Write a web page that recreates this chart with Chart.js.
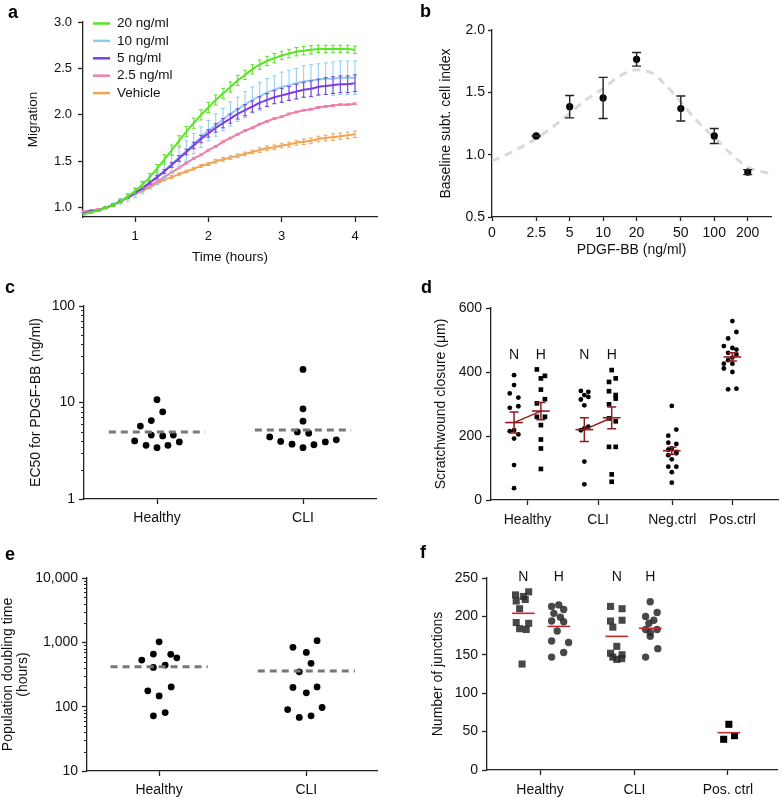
<!DOCTYPE html>
<html>
<head>
<meta charset="utf-8">
<script src="https://cdn.jsdelivr.net/npm/chart.js@4.4.1/dist/chart.umd.min.js"></script>
<style>
  body { margin: 0; background: #fff; width: 782px; height: 798px; position: relative; overflow: hidden; }
  canvas { position: absolute; }
</style>
</head>
<body>
<canvas id="ca" width="391" height="270" style="left:0;top:0"></canvas>
<canvas id="cb" width="391" height="270" style="left:391px;top:0"></canvas>
<canvas id="cc" width="391" height="260" style="left:0;top:270px"></canvas>
<canvas id="cd" width="391" height="260" style="left:391px;top:270px"></canvas>
<canvas id="ce" width="391" height="268" style="left:0;top:530px"></canvas>
<canvas id="cf" width="391" height="268" style="left:391px;top:530px"></canvas>
<script>
// ---- a: migration curves ----
const timeH = [0.3,0.4,0.5,0.6,0.7,0.8,0.9,1.0,1.1,1.2,1.3,1.4,1.5,1.6,1.7,1.8,1.9,2.0,2.1,2.2,2.3,2.4,2.5,2.6,2.7,2.8,2.9,3.0,3.1,3.2,3.3,3.4,3.5,3.6,3.7,3.8,3.9,4.0];
const mig20 = [0.93,0.95,0.97,1.00,1.03,1.07,1.12,1.18,1.25,1.33,1.42,1.52,1.62,1.72,1.82,1.91,2.00,2.08,2.16,2.23,2.30,2.37,2.43,2.49,2.54,2.58,2.61,2.64,2.66,2.68,2.69,2.70,2.71,2.71,2.71,2.71,2.71,2.70];
const mig10 = [0.95,0.96,0.97,1.00,1.03,1.07,1.11,1.16,1.21,1.27,1.33,1.40,1.47,1.54,1.61,1.69,1.76,1.83,1.89,1.95,2.01,2.06,2.11,2.16,2.20,2.24,2.27,2.30,2.32,2.34,2.36,2.37,2.38,2.39,2.39,2.40,2.40,2.40];
const mig5 = [0.94,0.96,0.97,1.00,1.03,1.07,1.11,1.16,1.21,1.27,1.33,1.39,1.46,1.53,1.60,1.67,1.74,1.80,1.86,1.91,1.96,2.01,2.05,2.09,2.13,2.16,2.19,2.21,2.23,2.25,2.27,2.28,2.30,2.31,2.32,2.33,2.33,2.34];
const mig25 = [0.96,0.97,0.98,1.00,1.03,1.07,1.11,1.15,1.19,1.24,1.28,1.33,1.38,1.43,1.48,1.53,1.57,1.62,1.66,1.71,1.75,1.79,1.83,1.86,1.90,1.93,1.96,1.98,2.01,2.03,2.05,2.06,2.08,2.09,2.10,2.11,2.11,2.12];
const migVeh = [0.96,0.97,0.98,1.00,1.03,1.07,1.11,1.15,1.18,1.22,1.26,1.30,1.33,1.36,1.39,1.42,1.45,1.47,1.50,1.52,1.54,1.56,1.58,1.60,1.62,1.64,1.65,1.67,1.68,1.70,1.71,1.72,1.74,1.75,1.76,1.77,1.78,1.79];
const err20 = [0.01,0.01,0.01,0.01,0.015,0.02,0.025,0.03,0.035,0.04,0.045,0.05,0.055,0.055,0.055,0.055,0.055,0.055,0.055,0.055,0.055,0.055,0.05,0.05,0.05,0.05,0.05,0.045,0.045,0.045,0.045,0.045,0.04,0.04,0.04,0.04,0.04,0.04];
const err10 = [0.01,0.01,0.01,0.01,0.02,0.03,0.04,0.05,0.06,0.07,0.08,0.09,0.10,0.11,0.11,0.11,0.11,0.11,0.12,0.12,0.13,0.13,0.14,0.14,0.15,0.15,0.15,0.16,0.16,0.16,0.17,0.17,0.17,0.17,0.18,0.18,0.18,0.18];
const err5 = [0.01,0.01,0.01,0.01,0.01,0.01,0.01,0.01,0.01,0.015,0.02,0.02,0.025,0.03,0.03,0.035,0.04,0.04,0.045,0.05,0.05,0.055,0.06,0.06,0.065,0.07,0.07,0.075,0.075,0.08,0.08,0.085,0.085,0.09,0.09,0.09,0.09,0.09];
const err25 = [0.01,0.01,0.01,0.01,0.01,0.01,0.01,0.01,0.01,0.01,0.01,0.01,0.01,0.01,0.01,0.01,0.01,0.01,0.01,0.01,0.01,0.01,0.01,0.01,0.01,0.01,0.01,0.01,0.01,0.01,0.01,0.01,0.01,0.01,0.01,0.01,0.01,0.01];
const errVeh = [0.005,0.005,0.005,0.005,0.005,0.005,0.01,0.01,0.01,0.01,0.01,0.01,0.015,0.015,0.015,0.015,0.015,0.015,0.02,0.02,0.02,0.02,0.02,0.02,0.025,0.025,0.025,0.025,0.025,0.025,0.03,0.03,0.03,0.03,0.035,0.035,0.035,0.035];

// ---- b: dose response ----
const pdgfConc = [2.5, 5, 10, 20, 50, 100, 200];
const cellIndex = [1.15, 1.385, 1.455, 1.765, 1.37, 1.15, 0.86];
const cellIndexSem = [0.005, 0.09, 0.165, 0.055, 0.10, 0.06, 0.02];
const fitConc = [1, 1.5, 2.5, 4, 5, 7, 10, 14, 20, 28, 40, 50, 70, 100, 140, 200, 280, 324];
const fitIndex = [0.95, 1.02, 1.13, 1.26, 1.33, 1.44, 1.53, 1.63, 1.68, 1.65, 1.52, 1.42, 1.27, 1.14, 1.01, 0.9, 0.86, 0.85];

// ---- c: EC50 ----
const ec50Healthy = [10.7, 8.0, 6.5, 5.7, 4.6, 4.5, 4.6, 4.0, 3.9, 3.6, 3.4, 3.6];
const ec50HealthyJit = [0, 0.039, -0.039, -0.114, -0.039, 0.039, 0.112, -0.153, 0.153, -0.075, 0, 0.075];
const ec50Cli = [22, 8.6, 6.4, 4.95, 4.8, 4.4, 3.95, 3.7, 3.4, 3.65, 3.9, 4.1];
const ec50CliJit = [0, 0, 0, -0.039, 0.039, -0.228, -0.153, -0.075, 0, 0.075, 0.153, 0.228];
const ec50Median = [4.95, 5.2];

// ---- d: scratchwound ----
const dTickLabels = ['Healthy', 'CLI', 'Neg.ctrl', 'Pos.ctrl'];
const dHealthyN = [390, 359, 333, 320, 288, 293, 218, 215, 205, 192, 109, 37];
const dHealthyNJit = [0, 0, -0.16, 0.16, -0.16, 0.16, 0, -0.16, 0.16, 0, 0, 0];
const dHealthyH = [408, 388, 380, 345, 315, 302, 260, 260, 234, 189, 161, 97];
const dHealthyHJit = [-0.15, 0.15, 0, 0, 0.15, -0.15, -0.15, 0.15, 0, 0, 0, 0];
const dCliN = [341, 338, 328, 314, 322, 296, 224, 229, 218, 120, 49];
const dCliNJit = [-0.13, 0.15, 0, -0.13, 0.15, 0, 0, 0.15, -0.13, 0, 0];
const dCliH = [406, 380, 369, 340, 328, 317, 299, 255, 246, 166, 166, 80, 57];
const dCliHJit = [0, 0.15, -0.1, -0.1, 0.15, 0.15, -0.1, -0.1, 0.15, -0.1, 0.15, 0, 0];
const dNeg = [294, 220, 201, 179, 175, 161, 157, 150, 146, 140, 127, 104, 104, 87, 54];
const dNegJit = [0, 0.17, -0.13, -0.13, 0.17, 0, -0.13, 0.17, 0.17, -0.13, 0, -0.13, 0.17, 0, 0];
const dPos = [559, 525, 505, 481, 475, 470, 460, 455, 445, 437, 426, 426, 411, 400, 346, 348];
const dPosJit = [0, 0.15, -0.16, -0.32, 0, 0.15, -0.16, 0.15, 0, -0.16, 0, -0.32, -0.32, 0, -0.16, 0.15];
const dMean = [242, 278, 220, 257, 154, 447];
const dSem = [33, 27, 37, 34, 11, 13];

// ---- e: doubling time ----
const pdtHealthy = [1020, 658, 650, 575, 530, 443, 408, 203, 176, 147, 81, 72];
const pdtHealthyJit = [0, -0.039, 0.079, 0.12, -0.118, 0.041, -0.039, 0.082, -0.077, 0, 0.041, -0.039];
const pdtCli = [1060, 836, 698, 471, 348, 199, 203, 164, 97, 90, 72, 68];
const pdtCliJit = [0.073, -0.091, 0, 0.032, -0.048, -0.091, 0.073, 0, 0.107, -0.127, 0.032, -0.048];
const pdtMedian = [417, 357];

// ---- f: junctions ----
const fTickLabels = ['Healthy', 'CLI', 'Pos. ctrl'];
const fHealthyN = [228, 232, 226, 220, 222, 210, 192, 191, 184, 183, 138];
const fHealthyNJit = [-0.083, 0.056, 0, -0.076, 0.02, -0.04, -0.076, 0.056, -0.04, 0.03, -0.014];
const fHealthyH = [213, 215, 209, 204, 199, 194, 193, 181, 168, 166, 153, 147];
const fHealthyHJit = [-0.076, 0, 0.052, -0.052, 0.017, -0.076, 0.052, -0.017, -0.076, 0.104, 0.052, -0.076];
const fCliN = [213, 210, 194, 195, 186, 161, 152, 150, 147, 144, 145];
const fCliNJit = [-0.066, 0.056, -0.066, 0.056, -0.042, 0, -0.066, 0.056, -0.042, 0, 0.052];
const fCliH = [219, 205, 200, 195, 191, 183, 183, 179, 174, 158, 147];
const fCliHJit = [0, 0.073, -0.049, 0.038, -0.014, 0.073, -0.049, 0, 0, 0.08, -0.049];
const fPos = [59.5, 40, 44.7];
const fPosJit = [0, -0.055, 0.06];
const fMean = [204, 187, 174, 184.5, 48.6];

// ---------- common ----------
Chart.defaults.font.family = "'Liberation Sans', Arial, Helvetica, sans-serif";
Chart.defaults.color = '#111';
Chart.defaults.animation = false;
Chart.defaults.plugins.legend.display = false;
Chart.defaults.plugins.tooltip.enabled = false;

const INK = '#222';
const RED_D = '#8e1c1c';
const RED_F = '#c42a2f';

function axis(c) {
  return {
    type: c.type || 'linear', min: c.min, max: c.max,
    border: {display: true, color: INK, width: 1.3},
    grid: {drawOnChartArea: false, drawTicks: true, tickLength: c.tickLen || 5, tickColor: INK, tickWidth: 1.3},
    ticks: {color: '#111', font: {size: c.fontSize || 14}, padding: c.tickPad ?? 4, maxRotation: 0, autoSkip: false,
      callback: (v, i) => c.labels ? c.labels[i] : v},
    title: c.title
      ? {display: true, text: c.title, color: '#111', font: {size: c.titleSize || 14, lineHeight: c.titleLH || 1.2}, padding: c.titlePad}
      : {display: false},
    afterBuildTicks: sc => { sc.ticks = c.ticks.map(v => ({value: v})); },
    afterFit: sc => { if (c.horiz) sc.height = c.size; else sc.width = c.size; }
  };
}

// vertical error bars, drawn right after their dataset
const errorBars = {
  id: 'errorBars',
  afterDatasetDraw(chart, args) {
    const ds = chart.data.datasets[args.index];
    if (!ds.err) return;
    const ctx = chart.ctx, xs = chart.scales.x, ys = chart.scales.y, cap = ds.errCap || 3;
    ctx.save();
    ctx.strokeStyle = ds.errColor || ds.borderColor;
    ctx.lineWidth = ds.errWidth || 1;
    ds.data.forEach((p, i) => {
      const e = ds.err[i];
      if (!e) return;
      const x = xs.getPixelForValue(p.x);
      const y1 = ys.getPixelForValue(p.y + e), y2 = ys.getPixelForValue(p.y - e);
      ctx.beginPath();
      ctx.moveTo(x, y1); ctx.lineTo(x, y2);
      ctx.moveTo(x - cap, y1); ctx.lineTo(x + cap, y1);
      ctx.moveTo(x - cap, y2); ctx.lineTo(x + cap, y2);
      ctx.stroke();
    });
    ctx.restore();
  }
};

const panelLabel = {
  id: 'panelLabel',
  afterDraw(chart, args, o) {
    const ctx = chart.ctx;
    ctx.save();
    ctx.font = "bold 18px 'Liberation Sans', Arial, sans-serif";
    ctx.fillStyle = '#000';
    ctx.textBaseline = 'middle';
    ctx.fillText(o.text, o.x, o.y);
    ctx.restore();
  }
};

const minorTicks = {
  id: 'minorTicks',
  afterDraw(chart, args, o) {
    const ctx = chart.ctx, ys = chart.scales.y, x0 = chart.chartArea.left;
    ctx.save();
    ctx.strokeStyle = INK; ctx.lineWidth = 1;
    o.values.forEach(v => {
      const y = Math.round(ys.getPixelForValue(v)) + 0.5;
      ctx.beginPath(); ctx.moveTo(x0 - 3, y); ctx.lineTo(x0, y); ctx.stroke();
    });
    ctx.restore();
  }
};

const groupText = {
  id: 'groupText',
  afterDraw(chart, args, o) {
    const ctx = chart.ctx, xs = chart.scales.x, ys = chart.scales.y;
    ctx.save();
    ctx.font = "14px 'Liberation Sans', Arial, sans-serif";
    ctx.fillStyle = '#111'; ctx.textAlign = 'center'; ctx.textBaseline = 'middle';
    o.items.forEach(it => ctx.fillText(it.text, xs.getPixelForValue(it.x), ys.getPixelForValue(it.y)));
    ctx.restore();
  }
};

const lineLegend = {
  id: 'lineLegend',
  afterDraw(chart, args, o) {
    const ctx = chart.ctx;
    ctx.save();
    ctx.font = "13.5px 'Liberation Sans', Arial, sans-serif";
    ctx.textBaseline = 'middle';
    chart.data.datasets.forEach((ds, i) => {
      const y = o.y + i * o.gap;
      ctx.strokeStyle = ds.borderColor; ctx.lineWidth = 2.5;
      ctx.beginPath(); ctx.moveTo(o.x, y); ctx.lineTo(o.x + 17, y); ctx.stroke();
      ctx.fillStyle = '#111';
      ctx.fillText(ds.label, o.x + 24, y);
    });
    ctx.restore();
  }
};

function pts(vals, jit, x0) {
  return vals.map((v, i) => ({x: x0 + jit[i], y: v}));
}
function dots(vals, jit, x0, style, r, color) {
  return {data: pts(vals, jit, x0), pointStyle: style, pointRadius: r, backgroundColor: color, borderWidth: 0, order: 2};
}
function hline(x0, half, y, color, w, dash) {
  return {data: [{x: x0 - half, y}, {x: x0 + half, y}], showLine: true, borderColor: color, borderWidth: w,
    borderDash: dash || [], pointRadius: 0, order: 1};
}

// ---------- a ----------
const aSeries = [
  {label: '20 ng/ml', v: mig20, e: err20, color: '#5ae324', order: 0},
  {label: '10 ng/ml', v: mig10, e: err10, color: '#8ccdee', order: 2},
  {label: '5 ng/ml', v: mig5, e: err5, color: '#7a3fdf', order: 1},
  {label: '2.5 ng/ml', v: mig25, e: err25, color: '#ee7fab', order: 3},
  {label: 'Vehicle', v: migVeh, e: errVeh, color: '#f0a455', order: 4}
];
new Chart(document.getElementById('ca'), {
  type: 'line',
  data: {datasets: aSeries.map(s => ({
    label: s.label, data: timeH.map((t, i) => ({x: t, y: s.v[i]})), err: s.e, errCap: 2, errWidth: 1,
    borderColor: s.color, backgroundColor: s.color, borderWidth: 2, pointRadius: 0, tension: 0.3, order: s.order
  }))},
  options: {
    responsive: false,
    layout: {padding: {top: 22, right: 14, left: 0, bottom: 0}},
    scales: {
      x: axis({min: 0.29, max: 4.3, ticks: [1, 2, 3, 4], horiz: true, size: 53, fontSize: 13, tickPad: 7,
        title: 'Time (hours)', titleSize: 13.5, titlePad: {top: 0, bottom: 5}}),
      y: axis({min: 0.9, max: 3.0, ticks: [1, 1.5, 2, 2.5, 3], labels: ['1.0', '1.5', '2.0', '2.5', '3.0'], size: 83,
        fontSize: 13, tickPad: 6, title: 'Migration', titleSize: 13.5, titlePad: {top: 25, bottom: 0}})
    },
    plugins: {panelLabel: {text: 'a', x: 8, y: 13}, lineLegend: {x: 93, y: 23.5, gap: 17.4}}
  },
  plugins: [errorBars, panelLabel, lineLegend]
});

// ---------- b ----------
new Chart(document.getElementById('cb'), {
  type: 'scatter',
  data: {datasets: [
    {data: pdgfConc.map((c, i) => ({x: c, y: cellIndex[i]})), err: cellIndexSem, errCap: 4.5, errWidth: 1.4, errColor: INK,
      pointRadius: 3.6, backgroundColor: '#000', borderWidth: 0, order: 0},
    {data: fitConc.map((c, i) => ({x: c, y: fitIndex[i]})), showLine: true, borderColor: '#d9d9d9', borderWidth: 3,
      borderDash: [8, 6], pointRadius: 0, cubicInterpolationMode: 'monotone', order: 1}
  ]},
  options: {
    responsive: false,
    layout: {padding: {top: 30, right: 11, left: 0, bottom: 0}},
    scales: {
      x: axis({type: 'logarithmic', min: 1, max: 324, ticks: [1, 2.5, 5, 10, 20, 50, 100, 200],
        labels: ['0', '2.5', '5', '10', '20', '50', '100', '200'], horiz: true, size: 53, tickLen: 4, tickPad: 4,
        title: 'PDGF-BB (ng/ml)', titlePad: {top: 0, bottom: 11}}),
      y: axis({min: 0.5, max: 2.0, ticks: [0.5, 1, 1.5, 2], labels: ['0.5', '1.0', '1.5', '2.0'], size: 101, tickLen: 4,
        tickPad: 3, title: 'Baseline subt. cell index', titlePad: {top: 47, bottom: 0}})
    },
    plugins: {panelLabel: {text: 'b', x: 29, y: 12}}
  },
  plugins: [errorBars, panelLabel]
});

// ---------- c ----------
new Chart(document.getElementById('cc'), {
  type: 'scatter',
  data: {datasets: [
    dots(ec50Healthy, ec50HealthyJit, 0, 'circle', 3.4, '#000'),
    dots(ec50Cli, ec50CliJit, 1, 'circle', 3.4, '#000'),
    hline(0, 0.33, ec50Median[0], '#777', 3, [7, 5]),
    hline(1, 0.33, ec50Median[1], '#777', 3, [7, 5])
  ]},
  options: {
    responsive: false,
    layout: {padding: {top: 36, right: 15, left: 0, bottom: 0}},
    scales: {
      x: axis({min: -0.5, max: 1.5, ticks: [0, 1], labels: ['Healthy', 'CLI'], horiz: true, size: 31, tickPad: 6}),
      y: axis({type: 'logarithmic', min: 1, max: 100, ticks: [1, 10, 100], labels: ['1', '10', '100'], size: 84,
        tickPad: 4, title: 'EC50 for PDGF-BB (ng/ml)', titlePad: {top: 28, bottom: 0}})
    },
    plugins: {panelLabel: {text: 'c', x: 5, y: 18}, minorTicks: {values: [2, 3, 4, 5, 6, 7, 8, 9, 20, 30, 40, 50, 60, 70, 80, 90]}}
  },
  plugins: [panelLabel, minorTicks]
});

// ---------- d ----------
const dGroupX = [0.86, 1.86, 3.48, 4.5, 6.74, 9.0];
new Chart(document.getElementById('cd'), {
  type: 'scatter',
  data: {datasets: [
    dots(dHealthyN, dHealthyNJit, dGroupX[0], 'circle', 2.4, '#000'),
    dots(dHealthyH, dHealthyHJit, dGroupX[1], 'rect', 3.3, '#000'),
    dots(dCliN, dCliNJit, dGroupX[2], 'circle', 2.4, '#000'),
    dots(dCliH, dCliHJit, dGroupX[3], 'rect', 3.3, '#000'),
    dots(dNeg, dNegJit, dGroupX[4], 'circle', 2.4, '#000'),
    dots(dPos, dPosJit, dGroupX[5], 'circle', 2.4, '#000'),
    ...dMean.map((m, i) => hline(dGroupX[i], 0.33, m, RED_D, 1.6)),
    {data: [{x: dGroupX[0], y: dMean[0]}, {x: dGroupX[1], y: dMean[1]}], showLine: true, borderColor: RED_D, borderWidth: 1.4, pointRadius: 0, order: 1},
    {data: [{x: dGroupX[2], y: dMean[2]}, {x: dGroupX[3], y: dMean[3]}], showLine: true, borderColor: RED_D, borderWidth: 1.4, pointRadius: 0, order: 1},
    {data: dGroupX.map((x, i) => ({x, y: dMean[i]})), err: dSem, errCap: 4.5, errWidth: 1.5, errColor: RED_D, pointRadius: 0, order: 0}
  ]},
  options: {
    responsive: false,
    layout: {padding: {top: 38, right: 1, left: 0, bottom: 0}},
    scales: {
      x: axis({min: 0, max: 10.7, ticks: [1.36, 3.99, 6.76, 9.0], labels: dTickLabels, horiz: true, size: 30, tickPad: 7}),
      y: axis({min: 0, max: 600, ticks: [0, 200, 400, 600], size: 100, tickPad: 4,
        title: 'Scratchwound closure (\u03bcm)', titlePad: {top: 42, bottom: 0}})
    },
    plugins: {
      panelLabel: {text: 'd', x: 30, y: 18},
      groupText: {items: [
        {x: dGroupX[0], y: 452, text: 'N'}, {x: dGroupX[1], y: 452, text: 'H'},
        {x: dGroupX[2], y: 452, text: 'N'}, {x: dGroupX[3], y: 452, text: 'H'}
      ]}
    }
  },
  plugins: [errorBars, panelLabel, groupText]
});

// ---------- e ----------
new Chart(document.getElementById('ce'), {
  type: 'scatter',
  data: {datasets: [
    dots(pdtHealthy, pdtHealthyJit, 0, 'circle', 3.4, '#000'),
    dots(pdtCli, pdtCliJit, 1, 'circle', 3.4, '#000'),
    hline(0, 0.33, pdtMedian[0], '#777', 3, [7, 5]),
    hline(1, 0.33, pdtMedian[1], '#777', 3, [7, 5])
  ]},
  options: {
    responsive: false,
    layout: {padding: {top: 48, right: 14, left: 0, bottom: 0}},
    scales: {
      x: axis({min: -0.49, max: 1.48, ticks: [0, 1], labels: ['Healthy', 'CLI'], horiz: true, size: 27, tickPad: 6}),
      y: axis({type: 'logarithmic', min: 10, max: 10000, ticks: [10, 100, 1000, 10000], labels: ['10', '100', '1,000', '10,000'],
        size: 87, tickPad: 4, title: ['Population doubling time', '(hours)'], titleLH: 1.1, titlePad: {top: 0, bottom: 0}})
    },
    plugins: {
      panelLabel: {text: 'e', x: 5, y: 25},
      minorTicks: {values: [20, 30, 40, 50, 60, 70, 80, 90, 200, 300, 400, 500, 600, 700, 800, 900, 2000, 3000, 4000, 5000, 6000, 7000, 8000, 9000]}
    }
  },
  plugins: [panelLabel, minorTicks]
});

// ---------- f ----------
const fGroupX = [-0.177, 0.198, 0.8125, 1.167, 2.0];
const SQ = 'rgba(40,40,40,0.85)';
new Chart(document.getElementById('cf'), {
  type: 'scatter',
  data: {datasets: [
    dots(fHealthyN, fHealthyNJit, fGroupX[0], 'rect', 5, SQ),
    dots(fHealthyH, fHealthyHJit, fGroupX[1], 'circle', 3.7, SQ),
    dots(fCliN, fCliNJit, fGroupX[2], 'rect', 5, SQ),
    dots(fCliH, fCliHJit, fGroupX[3], 'circle', 3.7, SQ),
    dots(fPos, fPosJit, fGroupX[4], 'rect', 5, '#000'),
    ...fMean.map((m, i) => hline(fGroupX[i], 0.12, m, RED_F, 1.6))
  ]},
  options: {
    responsive: false,
    layout: {padding: {top: 48, right: 1, left: 0, bottom: 0}},
    scales: {
      x: axis({min: -0.5625, max: 2.51, ticks: [0, 1, 1.99], labels: fTickLabels, horiz: true, size: 28, tickPad: 7}),
      y: axis({min: 0, max: 250, ticks: [0, 50, 100, 150, 200, 250], size: 96, tickPad: 4,
        title: 'Number of junctions', titlePad: {top: 39, bottom: 0}})
    },
    plugins: {
      panelLabel: {text: 'f', x: 29, y: 23},
      groupText: {items: [
        {x: fGroupX[0], y: 250.5, text: 'N'}, {x: fGroupX[1], y: 250.5, text: 'H'},
        {x: fGroupX[2], y: 250.5, text: 'N'}, {x: fGroupX[3], y: 250.5, text: 'H'}
      ]}
    }
  },
  plugins: [panelLabel, groupText]
});
</script>
</body>
</html>
